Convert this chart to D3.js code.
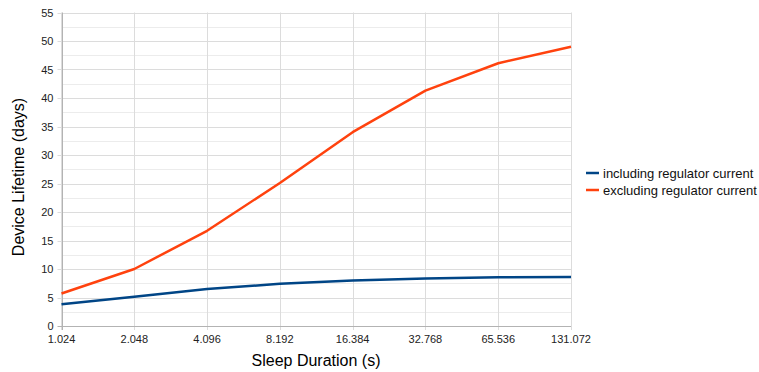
<!DOCTYPE html>
<html lang="en">
<head>
<meta charset="utf-8">
<script src="https://d3js.org/d3.v7.min.js"></script>
<style>
  body { margin: 0; background: #fff; }
  svg { font-family: "Liberation Sans", Arial, sans-serif; }
</style>
</head>
<body>
<svg width="759" height="372"></svg>
<script>
// chart data
var durations = ["1.024", "2.048", "4.096", "8.192", "16.384", "32.768", "65.536", "131.072"];
var including = [3.8, 5.15, 6.5, 7.4, 8.0, 8.35, 8.55, 8.6];
var excluding = [5.7, 10, 16.7, 25.1, 34.0, 41.3, 46.1, 49.0];
var yTicks = [0, 5, 10, 15, 20, 25, 30, 35, 40, 45, 50, 55];
var seriesNames = ["including regulator current", "excluding regulator current"];
var seriesColors = ["#004586", "#ff420e"];

var svg = d3.select("svg");
var plotLeft = 61.5, plotRight = 571, plotTop = 12.5, plotBottom = 326;

var x = d3.scalePoint().domain(durations).range([plotLeft, plotRight]);
var y = d3.scaleLinear().domain([0, 55]).range([plotBottom, plotTop]);

// minor grid (half steps)
svg.append("g").selectAll("line")
  .data(d3.range(2.5, 55, 5))
  .enter().append("line")
  .attr("x1", plotLeft).attr("x2", plotRight)
  .attr("y1", d => Math.round(y(d)) + 0.5).attr("y2", d => Math.round(y(d)) + 0.5)
  .attr("stroke", "#ececec");

// major grid
svg.append("g").selectAll("line")
  .data(yTicks.slice(1))
  .enter().append("line")
  .attr("x1", plotLeft - 4).attr("x2", plotRight)
  .attr("y1", d => Math.round(y(d)) + 0.5).attr("y2", d => Math.round(y(d)) + 0.5)
  .attr("stroke", "#dcdcdc");

svg.append("g").selectAll("line")
  .data(durations)
  .enter().append("line")
  .attr("x1", d => Math.round(x(d)) + 0.5).attr("x2", d => Math.round(x(d)) + 0.5)
  .attr("y1", plotTop).attr("y2", plotBottom + 4)
  .attr("stroke", "#dcdcdc");

// axes lines
svg.append("line")
  .attr("x1", plotLeft - 4).attr("x2", plotRight)
  .attr("y1", Math.round(y(0)) + 0.5).attr("y2", Math.round(y(0)) + 0.5)
  .attr("stroke", "#b3b3b3");
svg.append("line")
  .attr("x1", Math.round(plotLeft) + 0.5).attr("x2", Math.round(plotLeft) + 0.5)
  .attr("y1", plotTop).attr("y2", plotBottom + 4)
  .attr("stroke", "#b3b3b3");

// tick labels
svg.append("g").selectAll("text")
  .data(yTicks)
  .enter().append("text")
  .attr("x", 53.5)
  .attr("y", d => y(d) + 4)
  .attr("text-anchor", "end")
  .attr("font-size", 11)
  .attr("fill", "#222")
  .text(d => d);

svg.append("g").selectAll("text")
  .data(durations)
  .enter().append("text")
  .attr("x", d => x(d))
  .attr("y", 342.5)
  .attr("text-anchor", "middle")
  .attr("font-size", 11)
  .attr("fill", "#222")
  .text(d => d);

// axis titles
svg.append("text")
  .attr("transform", "translate(24,177) rotate(-90)")
  .attr("text-anchor", "middle")
  .attr("font-size", 16)
  .text("Device Lifetime (days)");

svg.append("text")
  .attr("x", 316)
  .attr("y", 366)
  .attr("text-anchor", "middle")
  .attr("font-size", 16)
  .text("Sleep Duration (s)");

// lines
var line = d3.line()
  .x((d, i) => x(durations[i]))
  .y(d => y(d));

[including, excluding].forEach(function(s, i) {
  svg.append("path")
    .attr("d", line(s))
    .attr("fill", "none")
    .attr("stroke", seriesColors[i])
    .attr("stroke-width", 2.5)
    .attr("stroke-linejoin", "round");
});

// legend
var legend = svg.append("g").selectAll("g")
  .data(seriesNames)
  .enter().append("g")
  .attr("transform", (d, i) => "translate(586," + (173 + i * 17) + ")");

legend.append("line")
  .attr("x1", 0).attr("x2", 13)
  .attr("stroke", (d, i) => seriesColors[i])
  .attr("stroke-width", 2.5);

legend.append("text")
  .attr("x", 17)
  .attr("y", 4.5)
  .attr("font-size", 13)
  .attr("fill", "#111")
  .text(d => d);
</script>
</body>
</html>
